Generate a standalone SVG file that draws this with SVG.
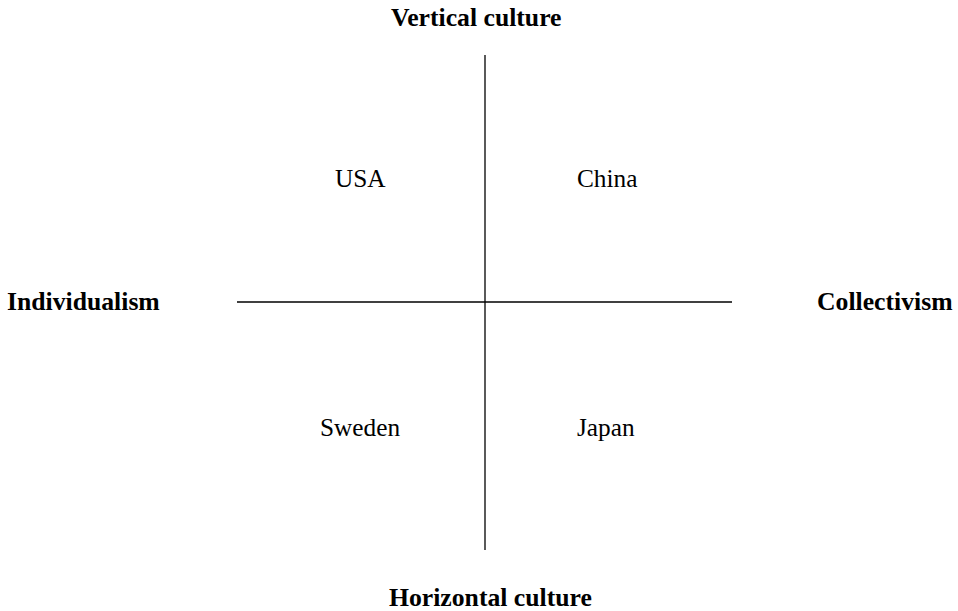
<svg xmlns="http://www.w3.org/2000/svg" width="958" height="611" viewBox="0 0 958 611">
<style>
.t{font-family:"Liberation Serif","Times New Roman",serif;font-size:25.3px;fill:#000}
.b{font-weight:bold;font-size:25.7px}
.ax{stroke:#000;stroke-width:1.3;fill:none}
</style>
<rect width="958" height="611" fill="#fff"/>
<g id="connectors">
<line class="ax" x1="485" y1="55" x2="485" y2="550"/>
<line class="ax" x1="237" y1="302" x2="732" y2="302"/>
</g>
<g id="vertical"><text class="t b" x="391" y="26">Vertical culture</text></g>
<g id="horizontal"><text class="t b" x="389" y="606">Horizontal culture</text></g>
<g id="individualism"><text class="t b" x="7" y="310">Individualism</text></g>
<g id="collectivism"><text class="t b" x="817" y="310">Collectivism</text></g>
<g id="usa"><text class="t" x="335" y="187">USA</text></g>
<g id="china"><text class="t" x="577" y="187">China</text></g>
<g id="sweden"><text class="t" x="320" y="436">Sweden</text></g>
<g id="japan"><text class="t" x="577" y="436">Japan</text></g>
</svg>
